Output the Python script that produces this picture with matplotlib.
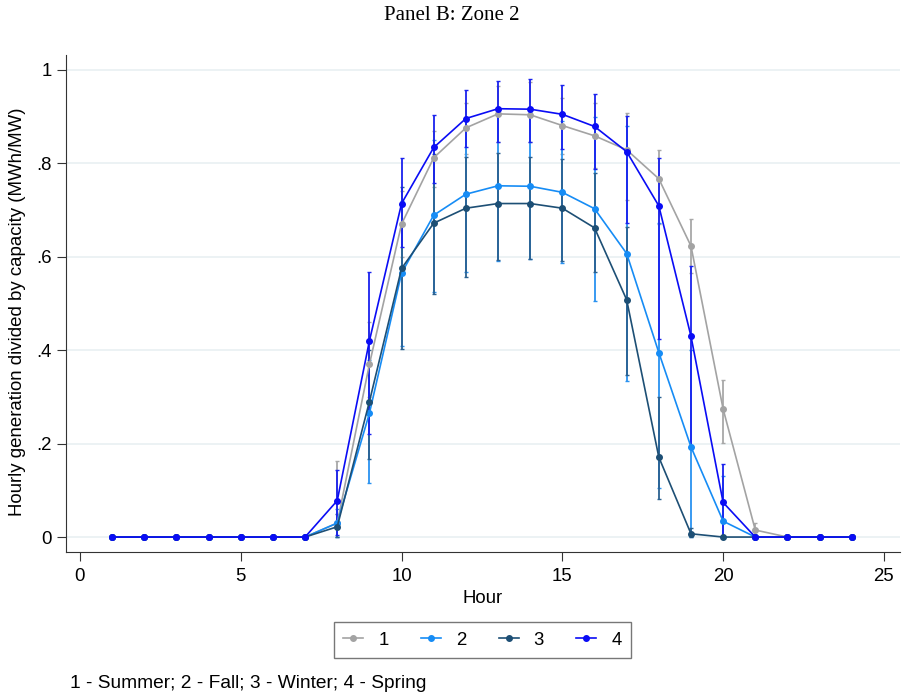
import matplotlib
matplotlib.use("Agg")
import matplotlib.pyplot as plt
import numpy as np

plt.rcParams['font.family'] = ['Liberation Sans', 'DejaVu Sans']

hours = list(range(1, 25))

# Series means (MWh/MW)
summer = [0, 0, 0, 0, 0, 0, 0, 0.03, 0.37, 0.67, 0.812, 0.876, 0.906, 0.904, 0.881, 0.859, 0.829, 0.767, 0.623, 0.274, 0.015, 0, 0, 0]
fall   = [0, 0, 0, 0, 0, 0, 0, 0.03, 0.265, 0.565, 0.689, 0.734, 0.752, 0.751, 0.738, 0.703, 0.607, 0.395, 0.193, 0.034, 0, 0, 0, 0]
winter = [0, 0, 0, 0, 0, 0, 0, 0.022, 0.29, 0.575, 0.672, 0.704, 0.714, 0.714, 0.704, 0.662, 0.508, 0.171, 0.007, 0, 0, 0, 0, 0]
spring = [0, 0, 0, 0, 0, 0, 0, 0.078, 0.42, 0.714, 0.834, 0.896, 0.917, 0.916, 0.905, 0.879, 0.825, 0.709, 0.43, 0.074, 0, 0, 0, 0]

# Error bar lower / upper bounds
summer_lo = [0, 0, 0, 0, 0, 0, 0, 0.0, 0.30, 0.60, 0.75, 0.82, 0.845, 0.845, 0.82, 0.79, 0.722, 0.67, 0.565, 0.202, 0.0, 0, 0, 0]
summer_hi = [0, 0, 0, 0, 0, 0, 0, 0.163, 0.46, 0.74, 0.87, 0.93, 0.965, 0.975, 0.94, 0.93, 0.907, 0.829, 0.68, 0.336, 0.03, 0, 0, 0]
fall_lo   = [0, 0, 0, 0, 0, 0, 0, 0.0, 0.115, 0.41, 0.525, 0.567, 0.59, 0.595, 0.587, 0.506, 0.334, 0.105, 0.0, 0.0, 0, 0, 0, 0]
fall_hi   = [0, 0, 0, 0, 0, 0, 0, 0.06, 0.38, 0.72, 0.85, 0.90, 0.91, 0.91, 0.89, 0.90, 0.88, 0.672, 0.40, 0.131, 0, 0, 0, 0]
winter_lo = [0, 0, 0, 0, 0, 0, 0, 0.0, 0.167, 0.402, 0.52, 0.557, 0.593, 0.596, 0.59, 0.568, 0.347, 0.082, 0.0, 0, 0, 0, 0, 0]
winter_hi = [0, 0, 0, 0, 0, 0, 0, 0.05, 0.40, 0.75, 0.82, 0.814, 0.822, 0.814, 0.81, 0.779, 0.664, 0.30, 0.02, 0, 0, 0, 0, 0]
spring_lo = [0, 0, 0, 0, 0, 0, 0, 0.005, 0.22, 0.62, 0.757, 0.835, 0.846, 0.846, 0.831, 0.787, 0.672, 0.423, 0.19, 0.0, 0, 0, 0, 0]
spring_hi = [0, 0, 0, 0, 0, 0, 0, 0.143, 0.567, 0.811, 0.904, 0.957, 0.977, 0.980, 0.967, 0.949, 0.901, 0.811, 0.58, 0.156, 0, 0, 0, 0]

labels = ["1", "2", "3", "4"]
colors = ["#a3a3a3", "#168cf5", "#1d4f75", "#0a0cf5"]
bar_colors = ["#a8a8a8", "#2a92f0", "#2b6190", "#1a22ee"]
yticks = [0, 0.2, 0.4, 0.6, 0.8, 1.0]
ytick_labels = ["0", ".2", ".4", ".6", ".8", "1"]
xticks = [0, 5, 10, 15, 20, 25]

FS = 13.4

fig = plt.figure(figsize=(9.03, 6.95), dpi=100)
ax = fig.add_axes([66/903, 1 - 552/695, (900-66)/903, (552-55)/695])

series = [(summer, summer_lo, summer_hi), (fall, fall_lo, fall_hi),
          (winter, winter_lo, winter_hi), (spring, spring_lo, spring_hi)]

h = np.array(hours)
for (m, lo, hi), c, bc, lab in zip(series, colors, bar_colors, labels):
    m = np.array(m); lo = np.array(lo); hi = np.array(hi)
    ax.errorbar(h, m, yerr=[m - lo, hi - m], fmt='none', ecolor=bc,
                elinewidth=1.3, capsize=1.6, capthick=1.0, zorder=2)
for (m, lo, hi), c, lab in zip(series, colors, labels):
    ax.plot(h, m, color=c, lw=1.2, marker='o', ms=4.0, mec=c, mfc=c,
            label=lab, zorder=3)

ax.set_xlim(-0.435, 25.5)
ax.set_ylim(-0.032, 1.032)
ax.set_yticks(yticks)
ax.set_yticklabels(ytick_labels)
ax.set_xticks(xticks)
ax.grid(axis='y', color='#eaf1f3', lw=1.3, zorder=0)
ax.set_axisbelow(True)
for s in ['top', 'right']:
    ax.spines[s].set_visible(False)
for s in ['left', 'bottom']:
    ax.spines[s].set_color('#333333')
    ax.spines[s].set_linewidth(0.8)
ax.tick_params(axis='both', labelsize=FS, length=6.8, width=0.8, direction='out',
               color='#333333')
ax.tick_params(axis='y', pad=3.5)
ax.tick_params(axis='x', pad=5)
ax.set_xlabel("Hour", fontsize=FS, labelpad=3)
ax.set_ylabel("Hourly generation divided by capacity (MWh/MW)", fontsize=FS)
ax.yaxis.set_label_coords((26 - 66) / 834, (552 - 312) / 497)

fig.text(0.5, 1 - 15/695, "Panel B: Zone 2", ha='center', va='center',
         fontsize=15, family=['Liberation Serif', 'DejaVu Serif'])

leg = fig.legend(loc='center', bbox_to_anchor=(482.5/903, 1 - 640/695), ncol=4,
                 fontsize=FS, frameon=True, fancybox=False, edgecolor='#555555',
                 handlelength=1.07, columnspacing=1.75, borderpad=0.5, handletextpad=0.8)
leg.get_frame().set_linewidth(1.0)

fig.text(70/903, 1 - 683/695, "1 - Summer; 2 - Fall; 3 - Winter; 4 - Spring",
         ha='left', va='center', fontsize=13.8)

fig.savefig("out.png", dpi=100, facecolor='white')
